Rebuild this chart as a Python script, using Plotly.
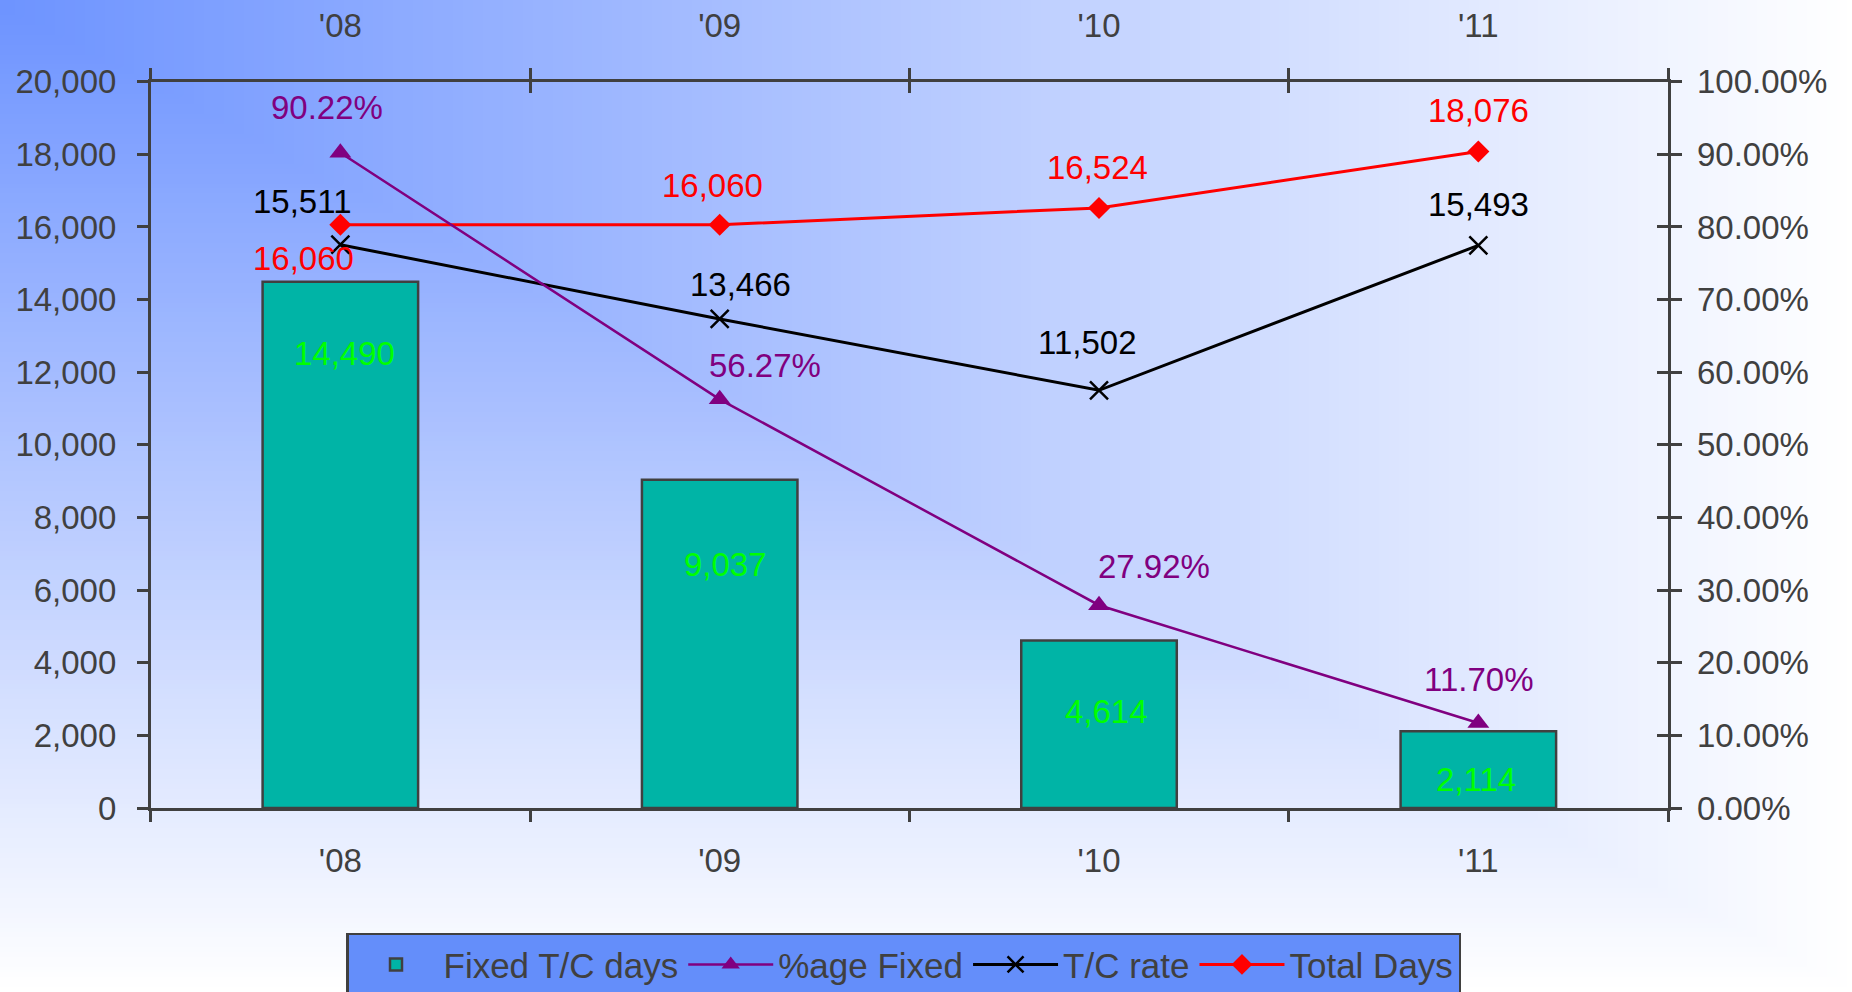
import base64
import struct
import zlib

import plotly.graph_objects as go

# ---- data -------------------------------------------------------------
years = ["'08", "'09", "'10", "'11"]
fixed_tc_days = [14490, 9037, 4614, 2114]
pct_fixed = [0.9022, 0.5627, 0.2792, 0.1170]
tc_rate = [15511, 13466, 11502, 15493]
total_days = [16060, 16060, 16524, 18076]

# ---- label offsets (px) from each point ------------------------------
bar_lbl_shift = [(4, -72), (6, -85), (7, -71), (-2, -48)]
pct_lbl_shift = [(-13, 45), (45, 34), (55, 39), (0, 44)]
rate_lbl_shift = [(-38, 43), (21, 34), (-12, 48), (0, 41)]
total_lbl_shift = [(-37, -34), (-7, 39), (-2, 40), (0, 41)]

W, H = 1852, 992
FONT = "Liberation Sans, Arial, sans-serif"
AXIS_COL = "#404040"
FS = 33


def gradient_png(w, h, c0, c1):
    """Corner gradient: darkest in top-left, fading to c1 toward right/bottom edges."""
    rows = []
    for j in range(h):
        row = bytearray()
        for i in range(w):
            t = max(i / (w - 1), j / (h - 1))
            row += bytes(int(round(a + (b - a) * t)) for a, b in zip(c0, c1))
        rows.append(b"\x00" + bytes(row))
    raw = b"".join(rows)

    def chunk(tag, data):
        return (struct.pack(">I", len(data)) + tag + data
                + struct.pack(">I", zlib.crc32(tag + data) & 0xFFFFFFFF))

    png = (b"\x89PNG\r\n\x1a\n"
           + chunk(b"IHDR", struct.pack(">IIBBBBB", w, h, 8, 2, 0, 0, 0))
           + chunk(b"IDAT", zlib.compress(raw, 9))
           + chunk(b"IEND", b""))
    return "data:image/png;base64," + base64.b64encode(png).decode()


bg_src = gradient_png(186, 100, (110, 148, 255), (255, 255, 255))

fig = go.Figure()

fig.add_trace(go.Bar(
    x=years, y=fixed_tc_days, name="Fixed T/C days",
    marker=dict(color="#00B4A6", line=dict(color=AXIS_COL, width=2.5)),
    width=0.41, xaxis="x", yaxis="y",
))
fig.add_trace(go.Scatter(
    x=years, y=pct_fixed, name="%age Fixed", mode="lines+markers",
    line=dict(color="#800080", width=2.5),
    marker=dict(symbol="triangle-up", size=19, color="#800080"),
    xaxis="x", yaxis="y2",
))
fig.add_trace(go.Scatter(
    x=years, y=tc_rate, name="T/C rate", mode="lines+markers",
    line=dict(color="#000000", width=3),
    marker=dict(symbol="x-thin", size=18, line=dict(color="#000000", width=2.5)),
    xaxis="x", yaxis="y",
))
fig.add_trace(go.Scatter(
    x=years, y=total_days, name="Total Days", mode="lines+markers",
    line=dict(color="#FF0000", width=3),
    marker=dict(symbol="diamond", size=17, color="#FF0000"),
    xaxis="x", yaxis="y",
))
# carries the top category axis
fig.add_trace(go.Scatter(
    x=years, y=total_days, mode="markers", marker=dict(opacity=0),
    showlegend=False, hoverinfo="skip", xaxis="x2", yaxis="y",
))

ann = []


def add_labels(values, shifts, yref, color, fmt):
    for yr, v, (dx, dy) in zip(years, values, shifts):
        ann.append(dict(
            x=yr, y=v, xref="x", yref=yref, text=fmt(v), showarrow=False,
            xshift=dx, yshift=dy, font=dict(family=FONT, size=FS, color=color),
        ))


add_labels(fixed_tc_days, bar_lbl_shift, "y", "#00FF00", lambda v: f"{v:,}")
add_labels(pct_fixed, pct_lbl_shift, "y2", "#800080", lambda v: f"{v * 100:.2f}%")
add_labels(tc_rate, rate_lbl_shift, "y", "#000000", lambda v: f"{v:,}")
add_labels(total_days, total_lbl_shift, "y", "#FF0000", lambda v: f"{v:,}")

x_dom = [150.7 / W, 1668 / W]
y_dom = [1 - 808 / H, 1 - 81.7 / H]

tick_common = dict(
    tickfont=dict(family=FONT, size=FS, color=AXIS_COL),
    tickcolor=AXIS_COL, tickwidth=2.5, ticklen=11,
    showgrid=False, zeroline=False, automargin=False,
)

fig.update_layout(
    template="none",
    width=W, height=H,
    margin=dict(l=0, r=0, t=0, b=0, autoexpand=False),
    paper_bgcolor="#FFFFFF",
    plot_bgcolor="rgba(0,0,0,0)",
    font=dict(family=FONT, size=FS, color=AXIS_COL),
    images=[dict(source=bg_src, xref="paper", yref="paper", x=0, y=1,
                 sizex=1, sizey=1, xanchor="left", yanchor="top",
                 sizing="stretch", layer="below")],
    xaxis=dict(
        domain=x_dom, anchor="y", type="category", categoryorder="array",
        categoryarray=years, range=[-0.5, 3.5],
        showline=True, linecolor=AXIS_COL, linewidth=2.5, mirror="ticks",
        ticks="outside", tickson="boundaries", ticklabelstandoff=22,
        **tick_common,
    ),
    xaxis2=dict(
        overlaying="x", anchor="y", side="top", type="category",
        categoryorder="array", categoryarray=years, range=[-0.5, 3.5],
        showline=False, ticks="inside", tickson="boundaries",
        ticklabelstandoff=37, **tick_common,
    ),
    yaxis=dict(
        domain=y_dom, anchor="x", range=[0, 20000], dtick=2000,
        tickformat=",", showline=True, linecolor=AXIS_COL, linewidth=2.5,
        mirror="ticks", ticks="outside", ticklabelstandoff=14,
        **tick_common,
    ),
    yaxis2=dict(
        overlaying="y", anchor="x", side="right", range=[0, 1], dtick=0.1,
        tickformat=".2%", showline=False, ticks="inside",
        ticklabelstandoff=28, **tick_common,
    ),
    legend=dict(
        orientation="h", x=346 / W, y=1 - 932.7 / H, xanchor="left",
        yanchor="top", bgcolor="#648EFA", bordercolor=AXIS_COL,
        borderwidth=2.5, font=dict(family=FONT, size=35, color=AXIS_COL),
        itemwidth=85, traceorder="normal",
    ),
    annotations=ann,
    showlegend=True,
)

fig.write_html("out.html")
